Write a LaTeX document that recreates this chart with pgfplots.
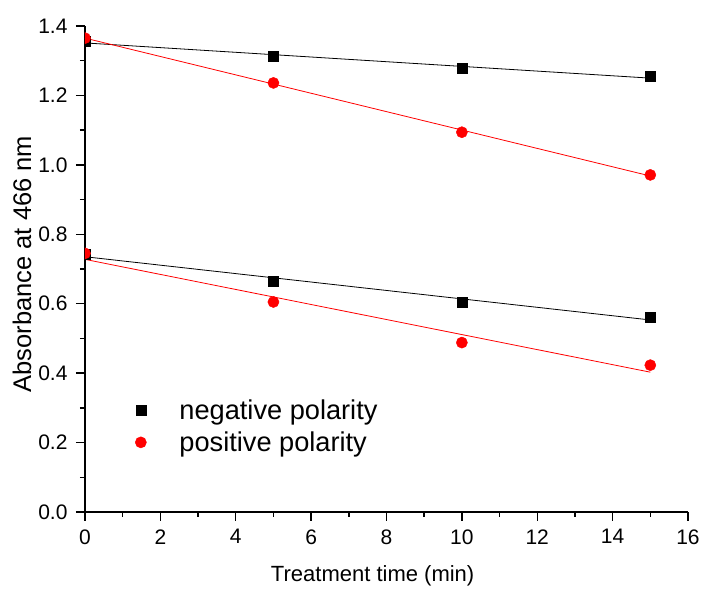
\documentclass[border=0pt]{standalone}
\usepackage{pgfplots}
\usepackage{pgfplotstable}
\pgfplotsset{compat=1.18}
\usepackage{fontspec}
\setmainfont{Liberation Sans}

% absorbance readings, two pairs of series
\pgfplotstableread{
t A
0 1.355
5 1.314
10 1.279
15 1.254
}\negHigh
\pgfplotstableread{
t A
0 1.365
5 1.236
10 1.094
15 0.971
}\posHigh
\pgfplotstableread{
t A
0 0.744
5 0.666
10 0.605
15 0.562
}\negLow
\pgfplotstableread{
t A
0 0.745
5 0.605
10 0.488
15 0.423
}\posLow

\begin{document}
\begin{tikzpicture}
\begin{axis}[
    scale only axis,
    width=603pt, height=486pt,
    xmin=0, xmax=16, ymin=0, ymax=1.4,
    axis x line*=bottom, axis y line*=left,
    axis line style={line width=1.4pt},
    xtick={0,2,...,16}, ytick={0,0.2,...,1.4},
    minor x tick num=1, minor y tick num=1,
    tick align=outside,
    major tick length=9pt, minor tick length=5pt,
    tick style={line width=1.4pt, black},
    tick label style={font=\fontsize{21}{24}\selectfont},
    /pgf/number format/assume math mode=true,
    y tick label style={xshift=-5pt, /pgf/number format/.cd, fixed, fixed zerofill, precision=1},
    x tick label style={yshift=-5pt},
    xlabel={Treatment time (min)},
    ylabel={Absorbance at 466 nm},
    xlabel style={font=\fontsize{22}{25}\selectfont, at={(ticklabel cs:0.477)}, yshift=-14pt},
    ylabel style={font=\fontsize{25.5}{28}\selectfont, at={(ticklabel cs:0.51)}},
    clip marker paths=true,
    legend style={draw=none, fill=none, at={(0.078,0.24)}, anchor=north west,
                  row sep=7pt, font=\fontsize{27.2}{30}\selectfont,
                  /tikz/every odd column/.append style={column sep=31pt}},
    legend cell align=left,
]
\coordinate (tl) at (rel axis cs:0,1);
\coordinate (br) at (rel axis cs:1,0);
% fitted lines
\addplot[black, line width=0.8pt, forget plot] table[x=t, y={create col/linear regression={y=A}}] {\negHigh};
\addplot[red, line width=0.8pt, forget plot] table[x=t, y={create col/linear regression={y=A}}] {\posHigh};
\addplot[black, line width=0.8pt, forget plot] table[x=t, y={create col/linear regression={y=A}}] {\negLow};
\addplot[red, line width=0.8pt, forget plot] table[x=t, y={create col/linear regression={y=A}}] {\posLow};
% measured points
\addplot[only marks, mark=square*, mark size=5pt, black] table[x=t, y=A] {\negHigh};
\addplot[only marks, mark=*, mark size=5.6pt, red, mark options={draw=red}] table[x=t, y=A] {\posHigh};
\addplot[only marks, mark=square*, mark size=5pt, black, forget plot] table[x=t, y=A] {\negLow};
\addplot[only marks, mark=*, mark size=5.6pt, red, mark options={draw=red}, forget plot] table[x=t, y=A] {\posLow};
\legend{negative polarity, positive polarity}
\end{axis}
\path (tl) ++(-85pt,26pt);
\path (br) ++(15pt,-76pt);
\end{tikzpicture}
\end{document}
